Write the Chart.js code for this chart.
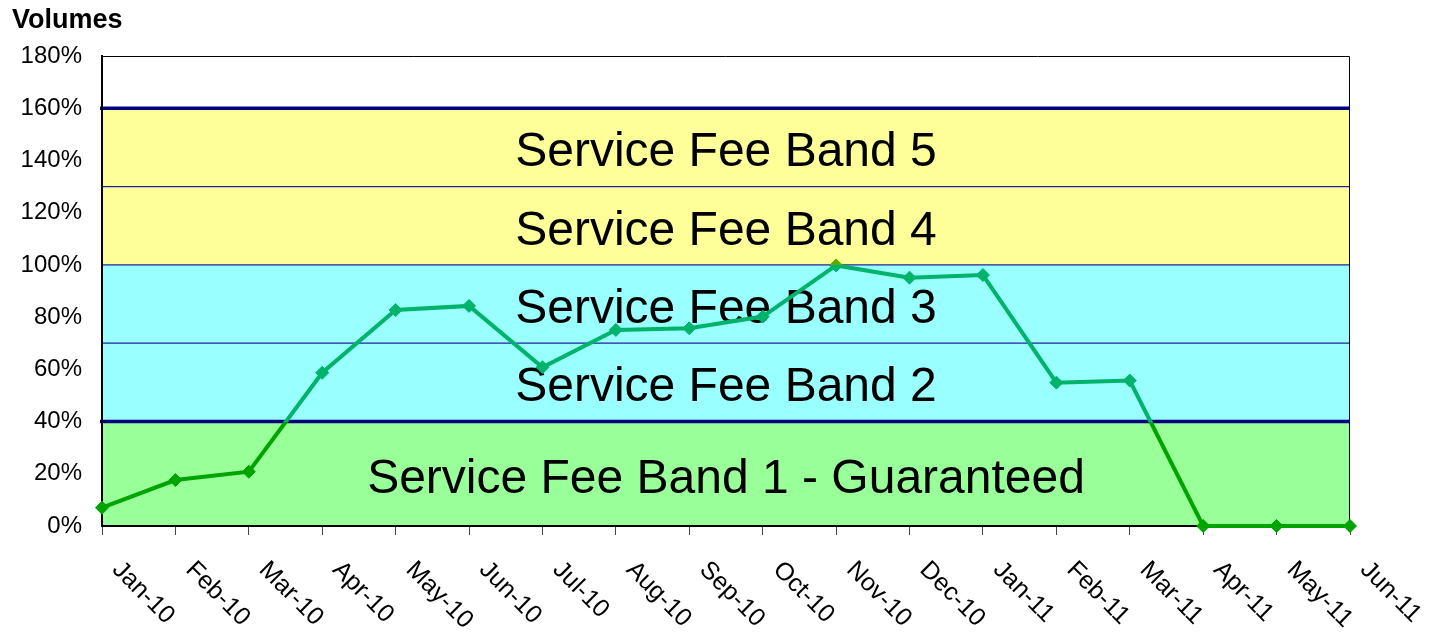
<!DOCTYPE html>
<html>
<head>
<meta charset="utf-8">
<script src="https://cdn.jsdelivr.net/npm/chart.js@4.4.1/dist/chart.umd.min.js"></script>
<style>
  html, body { margin: 0; padding: 0; background: #ffffff; }
  #wrap { width: 1431px; height: 632px; }
</style>
</head>
<body>
<div id="wrap"><canvas id="c" width="1431" height="632"></canvas></div>
<script>
// ---- data ----
const categories = ['Jan-10','Feb-10','Mar-10','Apr-10','May-10','Jun-10','Jul-10','Aug-10','Sep-10','Oct-10','Nov-10','Dec-10','Jan-11','Feb-11','Mar-11','Apr-11','May-11','Jun-11'];
const volumes = [7.0, 17.6, 20.8, 58.7, 82.7, 84.3, 60.8, 75.1, 75.7, 80.2, 99.8, 95.1, 96.1, 54.9, 55.7, 0, 0, 0];
const yTickValues = [0, 20, 40, 60, 80, 100, 120, 140, 160, 180];
const bandEdges = [0, 40, 100, 160, 180];
const bandFills = ['#99ff99', '#99ffff', '#ffff99', '#ffffff'];
const bandLabels = ['Service Fee Band 1 - Guaranteed', 'Service Fee Band 2', 'Service Fee Band 3', 'Service Fee Band 4', 'Service Fee Band 5'];
const bandLabelValues = [20, 55, 85, 115, 145];
const thickLineValues = [40, 160];
const thinLineValues = [70, 100, 130];
const titleText = 'Volumes';

const FONT = '"Liberation Sans", Arial, Helvetica, sans-serif';
const NAVY = '#000080';

function lineGradient(chart) {
  const a = chart.chartArea;
  const y = chart.scales.y;
  if (!a || !y) return '#00a800';
  const y0 = y.getPixelForValue(0), y1 = y.getPixelForValue(180);
  const g = chart.ctx.createLinearGradient(0, y0, 0, y1);
  const f40 = 40 / 180, f100 = 100 / 180;
  g.addColorStop(0, '#00a400');
  g.addColorStop(f40, '#00a400');
  g.addColorStop(f40, '#00b36a');
  g.addColorStop(f100, '#00b36a');
  g.addColorStop(f100, '#5aa800');
  g.addColorStop(1, '#5aa800');
  return g;
}

const bandPlugin = {
  id: 'bands',
  beforeDraw(chart) {
    const { ctx, chartArea: a, scales } = chart;
    const y = scales.y;
    ctx.save();
    ctx.fillStyle = '#ffffff';
    ctx.fillRect(0, 0, chart.width, chart.height);
    // band fills
    for (let i = 0; i < bandFills.length; i++) {
      const top = y.getPixelForValue(bandEdges[i + 1]);
      const bot = y.getPixelForValue(bandEdges[i]);
      ctx.fillStyle = bandFills[i];
      ctx.fillRect(a.left, top, a.right - a.left, bot - top);
    }
    // thin lines
    ctx.strokeStyle = '#2222a0';
    ctx.lineWidth = 1.2;
    thinLineValues.forEach(v => {
      const py = y.getPixelForValue(v);
      ctx.beginPath(); ctx.moveTo(a.left, py); ctx.lineTo(a.right, py); ctx.stroke();
    });
    // top & right border
    ctx.strokeStyle = '#000000';
    ctx.lineWidth = 1;
    ctx.beginPath();
    ctx.moveTo(a.left, a.top + 0.5);
    ctx.lineTo(a.right - 0.5, a.top + 0.5);
    ctx.lineTo(a.right - 0.5, a.bottom);
    ctx.stroke();
    // thick lines
    ctx.strokeStyle = NAVY;
    ctx.lineWidth = 3.5;
    thickLineValues.forEach(v => {
      const py = y.getPixelForValue(v);
      ctx.beginPath(); ctx.moveTo(a.left - 2, py); ctx.lineTo(a.right, py); ctx.stroke();
    });
    // band text
    ctx.fillStyle = '#000000';
    ctx.font = '48px ' + FONT;
    ctx.textAlign = 'center';
    ctx.textBaseline = 'alphabetic';
    const cx = (a.left + a.right) / 2;
    bandLabels.forEach((t, i) => {
      ctx.fillText(t, cx, y.getPixelForValue(bandLabelValues[i]) + 0.36 * 48 + 1.5);
    });
    ctx.restore();
  },
  afterDraw(chart) {
    const { ctx, chartArea: a, scales } = chart;
    const x = scales.x;
    ctx.save();
    // rotated x labels
    ctx.fillStyle = '#000000';
    ctx.font = '25px ' + FONT;
    ctx.textAlign = 'left';
    ctx.textBaseline = 'top';
    categories.forEach((c, i) => {
      const px = x.getPixelForTick(i);
      ctx.save();
      ctx.translate(px + 23, a.bottom + 31);
      ctx.rotate(Math.PI / 4);
      ctx.fillText(c, 0, 0);
      ctx.restore();
    });
    // title
    ctx.font = 'bold 27px ' + FONT;
    ctx.textAlign = 'left';
    ctx.textBaseline = 'alphabetic';
    ctx.fillText(titleText, 12, 28);
    ctx.restore();
  }
};

new Chart(document.getElementById('c'), {
  type: 'line',
  data: {
    labels: categories,
    datasets: [{
      label: 'Volumes',
      data: volumes,
      borderColor: (ctx) => lineGradient(ctx.chart),
      backgroundColor: (ctx) => lineGradient(ctx.chart),
      pointBackgroundColor: (ctx) => lineGradient(ctx.chart),
      pointBorderColor: (ctx) => lineGradient(ctx.chart),
      borderWidth: 4,
      pointStyle: 'rectRot',
      pointRadius: 6.5,
      pointBorderWidth: 1,
      tension: 0,
      fill: false,
      clip: false
    }]
  },
  options: {
    responsive: false,
    animation: false,
    devicePixelRatio: 1,
    layout: { padding: { left: 0, top: 56, right: 81, bottom: 0 } },
    plugins: {
      legend: { display: false },
      title: { display: false },
      tooltip: { enabled: false }
    },
    scales: {
      x: {
        type: 'category',
        offset: false,
        afterFit(axis) { axis.height = 106; },
        grid: { display: true, drawOnChartArea: false, drawTicks: true, tickLength: 9, color: '#444444', lineWidth: 1 },
        border: { display: true, color: '#000000', width: 2 },
        ticks: { display: false }
      },
      y: {
        min: 0,
        max: 180,
        afterFit(axis) { axis.width = 102; },
        afterBuildTicks(axis) { axis.ticks = yTickValues.map(v => ({ value: v })); },
        grid: { display: false, drawTicks: false },
        border: { display: true, color: '#000000', width: 2 },
        ticks: {
          padding: 20,
          color: '#000000',
          font: { family: FONT, size: 24 },
          callback: (v) => v + '%'
        }
      }
    }
  },
  plugins: [bandPlugin]
});
</script>
</body>
</html>
